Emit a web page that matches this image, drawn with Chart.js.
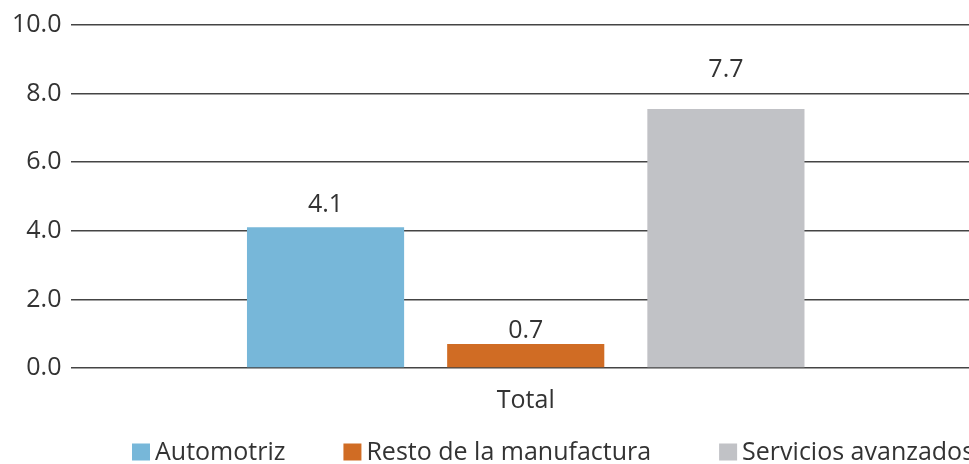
<!DOCTYPE html>
<html>
<head>
<meta charset="utf-8">
<script src="https://cdn.jsdelivr.net/npm/chart.js@4/dist/chart.umd.min.js"></script>
<style>
  html, body { margin: 0; padding: 0; background: #fff; overflow: hidden; }
  #wrap { width: 1000px; height: 464px; }
</style>
</head>
<body>
<div id="wrap"><canvas id="chart"></canvas></div>
<script>
// --- DATA --- //
const categories = ['Total']
const seriesNames = ['Automotriz', 'Resto de la manufactura', 'Servicios avanzados']
const automotriz = [4.1]
const restoManufactura = [0.7]
const serviciosAvanzados = [7.55]
const valueLabels = [['4.1'], ['0.7'], ['7.7']]
const yTicks = [0, 2, 4, 6, 8, 10]

// --- STYLE --- //
const colors = ['#77b7d9', '#d06c24', '#c1c2c6']
const textColor = '#333'
const fontFamily = "'Open Sans', 'Noto Sans', sans-serif"
const fontSize = 25
const labelGaps = [15, 6, 32]
const legendItemGaps = [58, 68, 0]

// --- VALUE LABELS | PLUGIN --- //
const valueLabelsPlugin = {
  id: 'valueLabels',
  afterDatasetsDraw: chart => {
    const ctx = chart.ctx
    ctx.save()
    ctx.font = `${fontSize}px ${fontFamily}`
    ctx.fillStyle = textColor
    ctx.textAlign = 'center'
    ctx.textBaseline = 'alphabetic'
    chart.data.datasets.forEach((ds, i) => {
      chart.getDatasetMeta(i).data.forEach((bar, j) => {
        ctx.fillText(valueLabels[i][j], bar.x, bar.y - labelGaps[i])
      })
    })
    ctx.restore()
  }
}

// --- LEGEND | PLUGIN --- //
const legendPlugin = {
  id: 'bottomLegend',
  afterDraw: chart => {
    const ctx = chart.ctx
    const boxW = 18
    const boxH = 17
    const gap = 5
    const y = chart.height - 12
    let x = 132
    ctx.save()
    ctx.font = `${fontSize}px ${fontFamily}`
    ctx.textBaseline = 'middle'
    ctx.textAlign = 'left'
    chart.data.datasets.forEach((ds, i) => {
      ctx.fillStyle = ds.backgroundColor
      ctx.fillRect(x, y - boxH / 2, boxW, boxH)
      ctx.fillStyle = textColor
      ctx.fillText(ds.label, x + boxW + gap, y + 1)
      x += boxW + gap + ctx.measureText(ds.label).width + legendItemGaps[i]
    })
    ctx.restore()
  }
}

const data = {
  labels: categories,
  datasets: [
    { label: seriesNames[0], data: automotriz, backgroundColor: colors[0] },
    { label: seriesNames[1], data: restoManufactura, backgroundColor: colors[1] },
    { label: seriesNames[2], data: serviciosAvanzados, backgroundColor: colors[2] }
  ]
}

const tickFont = { family: fontFamily, size: fontSize }

const config = {
  type: 'bar',
  data: data,
  options: {
    responsive: true,
    maintainAspectRatio: false,
    animation: false,
    categoryPercentage: 0.661,
    barPercentage: 0.785,
    layout: { padding: { top: 16, right: 20, left: 2, bottom: 38 } },
    scales: {
      x: {
        grid: { display: false },
        border: { display: false },
        ticks: { color: textColor, font: tickFont, padding: 10 }
      },
      y: {
        min: 0,
        max: 10,
        afterBuildTicks: axis => { axis.ticks = yTicks.map(v => ({ value: v })) },
        border: { display: false },
        grid: { color: '#444', lineWidth: 1.5, drawTicks: false },
        ticks: {
          color: textColor,
          padding: 10,
          font: tickFont,
          callback: v => v.toFixed(1)
        }
      }
    },
    plugins: {
      legend: { display: false },
      tooltip: { enabled: false }
    }
  },
  plugins: [valueLabelsPlugin, legendPlugin]
}

const myChart = new Chart(document.getElementById('chart'), config)
</script>
</body>
</html>
